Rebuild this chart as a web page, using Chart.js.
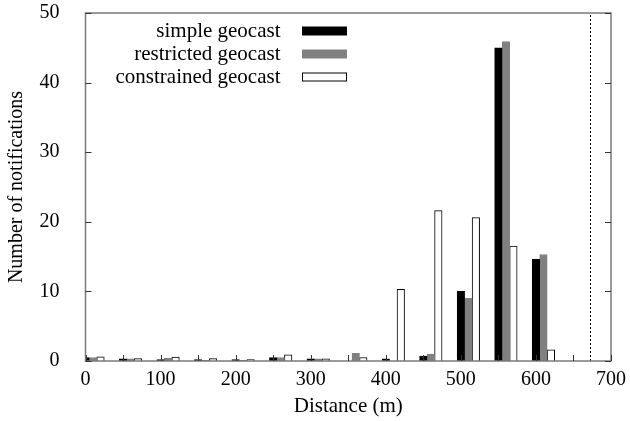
<!DOCTYPE html>
<html>
<head>
<meta charset="utf-8">
<script src="https://cdn.jsdelivr.net/npm/chart.js@4"></script>
<style>
    html, body { margin: 0; padding: 0; background: #fff; }
    #wrap { width: 630px; height: 421px; }
</style>
</head>
<body>
<div id="wrap"><canvas id="geoChart" width="630" height="421"></canvas></div>
<script>
// Distance of each bar group (m)
const distances = [0, 50, 100, 150, 200, 250, 300, 350, 400, 450, 500, 550, 600, 650];

// Number of notifications per scheme
const simpleGeocast = [0.5, 0.3, 0.2, 0.2, 0.2, 0.5, 0.3, 0, 0.3, 0.7, 10.0, 45.0, 14.6, 0];
const restrictedGeocast = [0.5, 0.3, 0.4, 0.1, 0.1, 0.5, 0.3, 1.1, 0, 1.0, 9.0, 45.9, 15.3, 0];
const constrainedGeocast = [0.6, 0.35, 0.55, 0.35, 0.2, 0.9, 0.3, 0.5, 10.3, 21.6, 20.6, 16.5, 1.6, 0];

// Dotted vertical limit (m)
const limitDistance = 672;

const yTicks = [0, 10, 20, 30, 40, 50];

const serif = '"Liberation Serif", "DejaVu Serif", serif';
Chart.defaults.font.family = serif;
Chart.defaults.font.size = 20;
Chart.defaults.color = '#000';

// Frame, inner tick marks, limit line and legend in gnuplot style
const framePlugin = {
    id: 'frame',
    beforeDatasetsDraw(chart) {
        const { ctx, scales } = chart;
        const px = Math.round(scales.x2.getPixelForValue(limitDistance)) + 0.5;
        ctx.save();
        ctx.strokeStyle = '#000';
        ctx.lineWidth = 1;
        ctx.setLineDash([2, 2]);
        ctx.beginPath();
        ctx.moveTo(px, scales.y.getPixelForValue(0));
        ctx.lineTo(px, scales.y.getPixelForValue(50));
        ctx.stroke();
        ctx.restore();
    },
    afterDatasetsDraw(chart) {
        const { ctx, chartArea: a, scales } = chart;
        ctx.save();
        ctx.strokeStyle = '#7a7a7a';
        ctx.lineWidth = 1.5;
        ctx.strokeRect(a.left, a.top, a.right - a.left, a.bottom - a.top);

        ctx.strokeStyle = '#333';
        ctx.lineWidth = 1;
        ctx.beginPath();
        scales.x2.ticks.forEach(t => {
            const px = Math.round(scales.x2.getPixelForValue(t.value)) + 0.5;
            ctx.moveTo(px, a.bottom);
            ctx.lineTo(px, a.bottom - 6);
        });
        scales.y.ticks.forEach(t => {
            const py = Math.round(scales.y.getPixelForValue(t.value)) + 0.5;
            ctx.moveTo(a.left, py);
            ctx.lineTo(a.left + 6, py);
            ctx.moveTo(a.right, py);
            ctx.lineTo(a.right - 6, py);
        });
        ctx.stroke();

        // legend
        ctx.font = '21px ' + serif;
        ctx.textAlign = 'right';
        ctx.textBaseline = 'middle';
        chart.data.datasets.forEach((ds, i) => {
            const y = a.top + 18 + i * 23;
            ctx.fillStyle = '#000';
            ctx.fillText(ds.label, a.left + 195, y);
            ctx.fillStyle = ds.backgroundColor;
            ctx.fillRect(a.left + 216.5, y - 4.5, 45, 9);
            if (ds.backgroundColor === '#ffffff') {
                ctx.strokeStyle = '#000';
                ctx.strokeRect(a.left + 217, y - 4, 44, 8);
            }
        });
        ctx.restore();
    }
};

new Chart(document.getElementById('geoChart'), {
    type: 'bar',
    data: {
        labels: distances,
        datasets: [{
            label: 'simple geocast',
            data: simpleGeocast,
            backgroundColor: '#000000',
            borderColor: '#000000',
            borderWidth: 1
        }, {
            label: 'restricted geocast',
            data: restrictedGeocast,
            backgroundColor: '#808080',
            borderColor: '#808080',
            borderWidth: 1
        }, {
            label: 'constrained geocast',
            data: constrainedGeocast,
            backgroundColor: '#ffffff',
            borderColor: '#000000',
            borderWidth: 1
        }]
    },
    options: {
        responsive: false,
        animation: false,
        barThickness: 7.5,
        layout: { padding: { left: 0, top: 13, right: 19, bottom: 0 } },
        plugins: {
            legend: { display: false },
            tooltip: { enabled: false }
        },
        scales: {
            // bars sit on a shifted hidden axis so each group starts at its distance
            x: {
                type: 'linear',
                display: false,
                offset: false,
                min: -10,
                max: 690
            },
            x2: {
                type: 'linear',
                position: 'bottom',
                offset: false,
                min: 0,
                max: 700,
                grid: { display: false, drawTicks: false },
                border: { display: false },
                ticks: {
                    stepSize: 50,
                    autoSkip: false,
                    maxRotation: 0,
                    padding: 7,
                    callback: v => (v % 100 === 0 ? v : '')
                },
                title: {
                    display: true,
                    text: 'Distance (m)',
                    font: { size: 21 },
                    padding: { top: 0, bottom: 2 }
                },
                afterFit: s => {
                    s.height = 60;
                    s.paddingLeft = 0;
                    s.paddingRight = 0;
                }
            },
            y: {
                min: 0,
                max: 50,
                grid: { display: false, drawTicks: false },
                border: { display: false },
                afterBuildTicks: s => { s.ticks = yTicks.map(v => ({ value: v })); },
                ticks: { padding: 26 },
                title: {
                    display: true,
                    text: 'Number of notifications',
                    padding: { top: 5, bottom: 0 }
                },
                afterFit: s => {
                    s.width = 85.5;
                    s.paddingTop = 0;
                    s.paddingBottom = 0;
                }
            }
        }
    },
    plugins: [framePlugin]
});
</script>
</body>
</html>
